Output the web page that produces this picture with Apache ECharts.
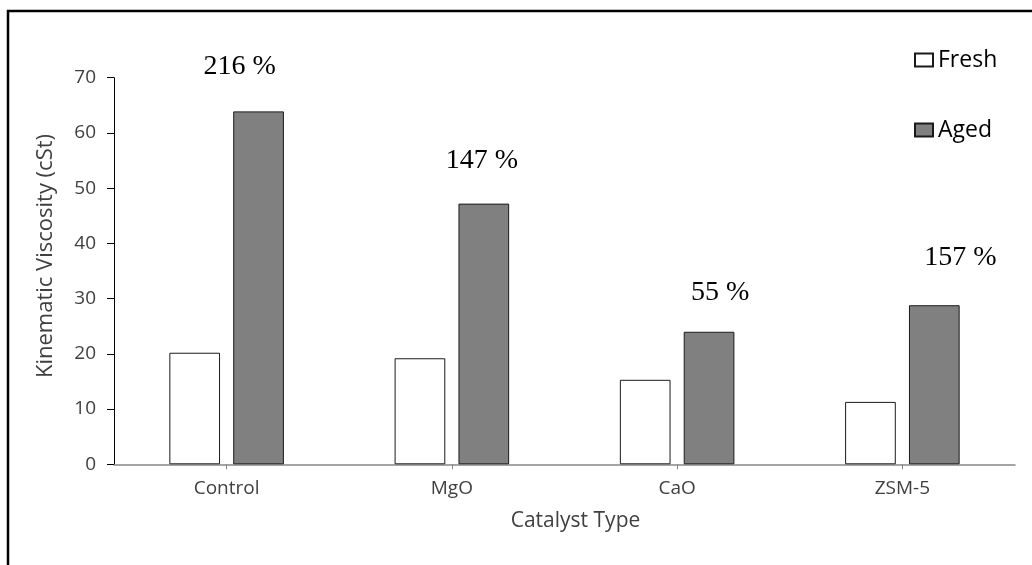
<!DOCTYPE html>
<html>
<head>
<meta charset="utf-8">
<script src="https://cdn.jsdelivr.net/npm/echarts@6/dist/echarts.min.js"></script>
<style>
html,body{margin:0;padding:0;background:#fff;}
#chart{width:1032px;height:565px;}
</style>
</head>
<body>
<div id="chart"></div>
<script>
// ---- data ----
const categories = ['Control', 'MgO', 'CaO', 'ZSM-5'];
const freshValues = [20.2, 19.2, 15.3, 11.3];
const agedValues = [63.9, 47.2, 24.0, 28.8];
const agedIncrease = ['216 %', '147 %', '55 %', '157 %'];
const yTicks = { min: 0, max: 70, interval: 10 };

// ---- layout (label placement per item) ----
const labelOffsets = [[-19, -26], [-2, -24], [11, -20], [26, -29]];

const chart = echarts.init(document.getElementById('chart'), null, { renderer: 'canvas' });

const option = {
  backgroundColor: '#ffffff',
  animation: false,
  textStyle: { fontFamily: 'Open Sans' },
  grid: { left: 114, right: 17, top: 77.7, bottom: 100.7, containLabel: false },
  legend: {
    orient: 'vertical',
    left: 909,
    top: 43,
    padding: 5,
    itemWidth: 18,
    itemHeight: 13,
    itemGap: 46,
    itemTextGap: 4,
    icon: 'rect',
    textStyle: { fontFamily: 'Open Sans', fontSize: 23, color: '#000', lineHeight: 24 },
    data: ['Fresh', 'Aged']
  },
  xAxis: {
    type: 'category',
    data: categories,
    name: 'Catalyst Type',
    nameLocation: 'middle',
    nameGap: 46,
    nameTextStyle: { fontFamily: 'Open Sans', fontSize: 21, color: '#404040', padding: [0, 0, 0, 22] },
    axisLine: { lineStyle: { color: '#868686', width: 1.5 } },
    axisTick: { show: true, alignWithLabel: true, inside: false, length: 5, lineStyle: { color: '#868686' } },
    axisLabel: { fontFamily: 'Open Sans', fontSize: 19, color: '#404040', margin: 15 },
    splitLine: { show: false }
  },
  yAxis: {
    type: 'value',
    min: yTicks.min,
    max: yTicks.max,
    interval: yTicks.interval,
    name: 'Kinematic Viscosity (cSt)',
    nameLocation: 'middle',
    nameGap: 57,
    nameRotate: 90,
    nameTextStyle: { fontFamily: 'Open Sans', fontSize: 22, color: '#404040', padding: [0, 0, 0, 30] },
    axisLine: { show: true, lineStyle: { color: '#000', width: 1 } },
    axisTick: { show: true, length: 7, lineStyle: { color: '#000' } },
    axisLabel: { fontFamily: 'Open Sans', fontSize: 19, color: '#404040', margin: 18 },
    splitLine: { show: false }
  },
  series: [
    {
      name: 'Fresh',
      type: 'bar',
      data: freshValues,
      barWidth: '22.5%',
      barGap: '26%',
      itemStyle: { color: '#ffffff', borderColor: '#1a1a1a', borderWidth: 1 }
    },
    {
      name: 'Aged',
      type: 'bar',
      data: agedValues.map((v, i) => ({
        value: v,
        label: {
          show: true,
          position: 'top',
          offset: labelOffsets[i],
          formatter: agedIncrease[i]
        }
      })),
      barWidth: '22.5%',
      itemStyle: { color: '#808080', borderColor: '#1a1a1a', borderWidth: 1 },
      label: {
        show: true,
        position: 'top',
        fontFamily: 'Liberation Serif',
        fontSize: 28,
        color: '#000'
      }
    }
  ],
  graphic: [
    {
      type: 'rect',
      silent: true,
      shape: { x: 8, y: 11, width: 1100, height: 700 },
      style: { fill: 'none', stroke: '#000', lineWidth: 2.5 },
      z: 100
    }
  ]
};

chart.setOption(option);
</script>
</body>
</html>
